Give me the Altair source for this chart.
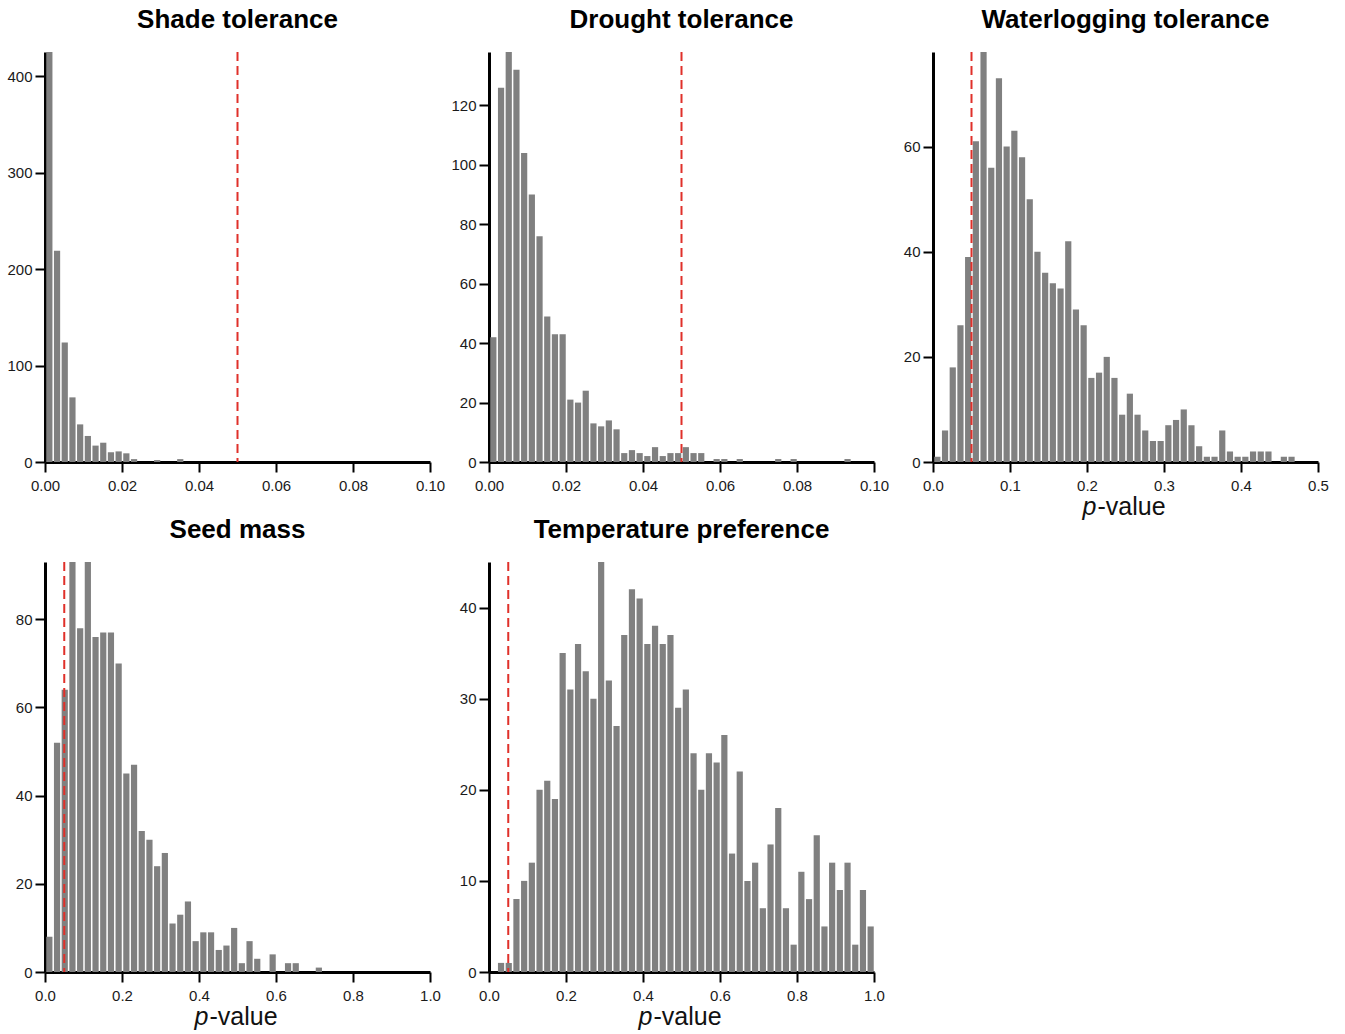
import altair as alt
import pandas as pd

# ---- data ----
titles = ["Shade tolerance", "Drought tolerance", "Waterlogging tolerance",
          "Seed mass", "Temperature preference"]
bin_widths = [0.002, 0.002, 0.01, 0.02, 0.02]
x_max = [0.10, 0.10, 0.5, 1.0, 1.0]
y_max = [425, 138, 78, 93, 45]
x_ticks = [[0.0, 0.02, 0.04, 0.06, 0.08, 0.10],
           [0.0, 0.02, 0.04, 0.06, 0.08, 0.10],
           [0.0, 0.1, 0.2, 0.3, 0.4, 0.5],
           [0.0, 0.2, 0.4, 0.6, 0.8, 1.0],
           [0.0, 0.2, 0.4, 0.6, 0.8, 1.0]]
x_formats = [".2f", ".2f", ".1f", ".1f", ".1f"]
y_ticks = [[0, 100, 200, 300, 400],
           [0, 20, 40, 60, 80, 100, 120],
           [0, 20, 40, 60],
           [0, 20, 40, 60, 80],
           [0, 10, 20, 30, 40]]
show_pvalue = [False, False, True, True, True]
threshold = 0.05

shade_counts = [425, 219, 124, 67, 39, 27, 17, 20, 10, 11, 9, 3, 0, 0, 2, 0, 0, 3]
drought_counts = [42, 126, 138, 132, 104, 90, 76, 49, 43, 43,
                  21, 20, 24, 13, 12, 14, 11, 3, 4, 3,
                  2, 5, 2, 3, 3, 5, 3, 3, 0, 1,
                  1, 0, 1, 0, 0, 0, 0, 1, 0, 1,
                  0, 0, 0, 0, 0, 0, 1]
waterlog_counts = [1, 6, 18, 26, 39, 61, 78, 56, 73, 60,
                   63, 58, 50, 40, 36, 34, 33, 42, 29, 26,
                   16, 17, 20, 16, 9, 13, 9, 6, 4, 4,
                   7, 8, 10, 7, 3, 1, 1, 6, 2, 1,
                   1, 2, 2, 2, 0, 1, 1]
seed_counts = [8, 52, 64, 93, 78, 93, 76, 77, 77, 70,
               45, 47, 32, 30, 24, 27, 11, 13, 16, 7,
               9, 9, 5, 6, 10, 2, 7, 3, 0, 4,
               0, 2, 2, 0, 0, 1]
temp_counts = [0, 1, 1, 8, 10, 12, 20, 21, 19, 35,
               31, 36, 33, 30, 45, 32, 27, 37, 42, 41,
               36, 38, 36, 37, 29, 31, 24, 20, 24, 23,
               26, 13, 22, 10, 12, 7, 14, 18, 7, 3,
               11, 8, 15, 5, 12, 9, 12, 3, 9, 5]
all_counts = [shade_counts, drought_counts, waterlog_counts, seed_counts, temp_counts]

W, H = 385, 410
FONT = "Liberation Sans"
BAR = "#808080"
RED = "#e0302a"


def panel(i):
    bw = bin_widths[i]
    counts = all_counts[i]
    df = pd.DataFrame({
        "start": [k * bw for k in range(len(counts))],
        "end": [(k + 1) * bw for k in range(len(counts))],
        "count": counts,
    })
    df = df[df["count"] > 0]
    xscale = alt.Scale(domain=[0, x_max[i]], nice=False, zero=True)
    bars = alt.Chart(df).mark_bar(color=BAR, binSpacing=1.5).encode(
        x=alt.X("start:Q", bin="binned", scale=xscale,
                axis=alt.Axis(values=x_ticks[i], format=x_formats[i], title=None,
                              labelFlush=False, labelOverlap=False)),
        x2="end:Q",
        y=alt.Y("count:Q", scale=alt.Scale(domain=[0, y_max[i]], nice=False),
                axis=alt.Axis(values=y_ticks[i], title=None, labelFlush=False,
                              labelOverlap=False)),
    )
    rule = alt.Chart(pd.DataFrame({"t": [threshold]})).mark_rule(
        color=RED, strokeDash=[9, 5], strokeWidth=2
    ).encode(x=alt.datum(threshold))
    layers = [bars, rule]
    if show_pvalue[i]:
        p = alt.Chart(pd.DataFrame({"s": ["p"]})).mark_text(
            font=FONT, fontSize=25, fontStyle="italic", align="left",
            baseline="alphabetic", color="#111"
        ).encode(text="s:N", x=alt.value(W / 2 - 43), y=alt.value(H + 53))
        v = alt.Chart(pd.DataFrame({"s": ["-value"]})).mark_text(
            font=FONT, fontSize=25, align="left", baseline="alphabetic", color="#111"
        ).encode(text="s:N", x=alt.value(W / 2 - 28), y=alt.value(H + 53))
        layers += [p, v]
    return alt.layer(*layers).properties(
        width=W, height=H,
        title=alt.TitleParams(titles[i], font=FONT, fontSize=26, fontWeight="bold",
                              color="#000", offset=18, anchor="middle"),
    )


chart = alt.concat(
    *[panel(i) for i in range(5)],
    columns=3,
    spacing={"row": 100, "column": 59},
    bounds="flush",
).properties(
    padding={"left": 6, "top": 7, "right": 5, "bottom": 5}
).configure_view(stroke=None).configure_axis(
    domainColor="#000", domainWidth=3, tickColor="#000", tickWidth=2, tickSize=10,
    labelFont=FONT, labelFontSize=15, labelColor="#1a1a1a", grid=False,
).configure_axisX(labelPadding=6).configure_axisY(labelPadding=3)

chart.save("out.html", embed_options={"renderer": "svg", "actions": False})
